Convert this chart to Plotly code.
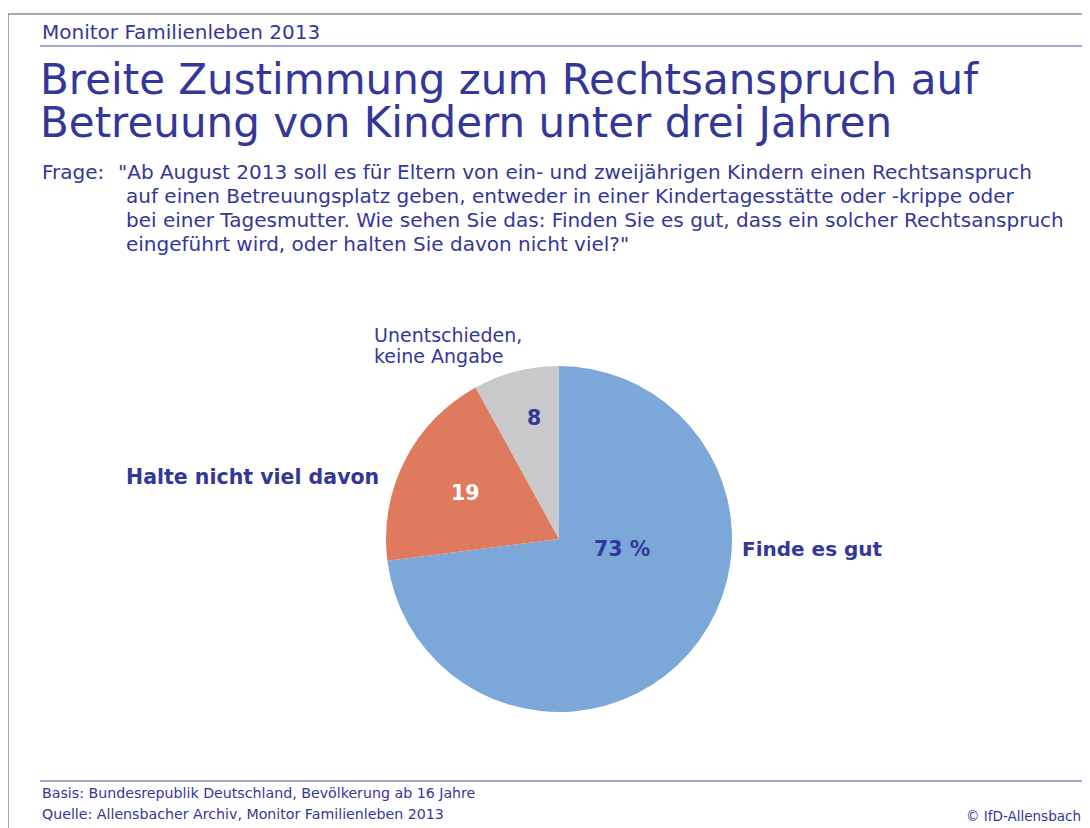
import plotly.graph_objects as go

# Data
categories = ["Finde es gut", "Halte nicht viel davon", "Unentschieden, keine Angabe"]
values = [73, 19, 8]
value_labels = ["73 %", "19", "8"]
colors = ["#7BA7D9", "#E07A5F", "#C8C9CB"]

W, H = 1090, 828
OFF = 8  # page body margin offset
FONT = "DejaVu Sans"
TXT = "#34379A"

def px(x):
    return (x - OFF) / W

def py(y):
    return 1 - (y - OFF) / H

fig = go.Figure()

# Pie: center (559, 539), radius ~173
cx, cy, r = 559, 539, 173
fig.add_trace(go.Pie(
    labels=categories,
    values=values,
    marker=dict(colors=colors, line=dict(width=0)),
    sort=False,
    direction="clockwise",
    rotation=0,
    textinfo="none",
    hoverinfo="label+value",
    showlegend=False,
    domain=dict(x=[px(cx - r), px(cx + r)], y=[py(cy + r), py(cy - r)]),
))

ann = []

def add(text, x, y, size, xanchor="left", bold=False, color=TXT):
    ann.append(dict(
        text=f"<b>{text}</b>" if bold else text,
        x=px(x), y=py(y), xref="paper", yref="paper",
        xanchor=xanchor, yanchor="middle", showarrow=False,
        font=dict(family=FONT, size=size, color=color),
    ))

add("Monitor Familienleben 2013", 40, 32, 20)
add("Breite Zustimmung zum Rechtsanspruch auf", 38, 79, 42)
add("Betreuung von Kindern unter drei Jahren", 38, 123, 42)

add("Frage:", 40, 172, 20)
frage_lines = [
    "\"Ab August 2013 soll es für Eltern von ein- und zweijährigen Kindern einen Rechtsanspruch",
    "auf einen Betreuungsplatz geben, entweder in einer Kindertagesstätte oder -krippe oder",
    "bei einer Tagesmutter. Wie sehen Sie das: Finden Sie es gut, dass ein solcher Rechtsanspruch",
    "eingeführt wird, oder halten Sie davon nicht viel?\"",
]
for i, line in enumerate(frage_lines):
    add(line, 116 if i == 0 else 124, 172 + 24 * i, 20)

# Category labels
add("Unentschieden,", 372, 335, 19)
add("keine Angabe", 372, 356, 19)
add(categories[1], 381, 477, 20.5, xanchor="right", bold=True)
add(categories[0], 740, 549, 20, bold=True)

# Value labels
add(value_labels[2], 534, 418, 20.5, xanchor="center", bold=True)
add(value_labels[1], 465, 493, 20.5, xanchor="center", bold=True, color="white")
add(value_labels[0], 622, 549, 20.5, xanchor="center", bold=True)

# Footer
add("Basis: Bundesrepublik Deutschland, Bevölkerung ab 16 Jahre", 40, 793, 14.2)
add("Quelle: Allensbacher Archiv, Monitor Familienleben 2013", 40, 814, 14.2)
add("© IfD-Allensbach", 1083, 816, 13.5, xanchor="right")

shapes = [
    dict(type="line", xref="paper", yref="paper", x0=px(8), x1=1, y0=py(14), y1=py(14),
         line=dict(color="#8a8a8a", width=1.5)),
    dict(type="line", xref="paper", yref="paper", x0=px(8), x1=px(8), y0=py(14), y1=0,
         line=dict(color="#8a8a8a", width=1.5)),
    dict(type="line", xref="paper", yref="paper", x0=px(40), x1=1, y0=py(46), y1=py(46),
         line=dict(color="#4A4DA8", width=1.2)),
    dict(type="line", xref="paper", yref="paper", x0=px(40), x1=1, y0=py(781), y1=py(781),
         line=dict(color="#4A4DA8", width=1.2)),
]

fig.update_layout(
    width=W, height=H,
    margin=dict(l=0, r=0, t=0, b=0),
    paper_bgcolor="white", plot_bgcolor="white",
    annotations=ann, shapes=shapes,
)

fig.write_html("out.html")
